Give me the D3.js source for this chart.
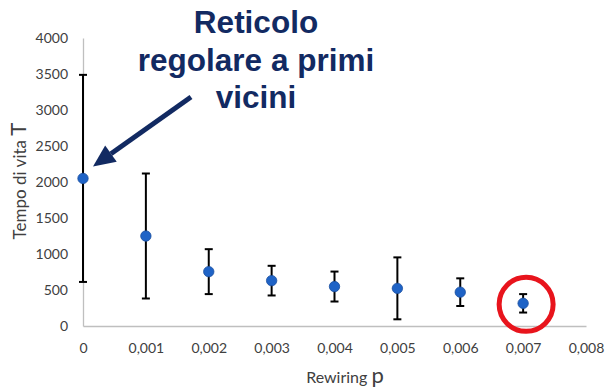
<!DOCTYPE html>
<html>
<head>
<meta charset="utf-8">
<script src="https://cdnjs.cloudflare.com/ajax/libs/d3/7.8.5/d3.min.js"></script>
<style>
  body { margin: 0; background: #fff; }
  svg { display: block; }
</style>
</head>
<body>
<div id="chart"></div>
<script>
// values
const pValues = [0, 0.001, 0.002, 0.003, 0.004, 0.005, 0.006, 0.007]
const meanT = [2050, 1250, 755, 630, 548, 523, 470, 315]
const errT = [1438, 868, 312, 206, 208, 430, 192, 128]
const xTicks = [0, 0.001, 0.002, 0.003, 0.004, 0.005, 0.006, 0.007, 0.008]
const yTicks = [0, 500, 1000, 1500, 2000, 2500, 3000, 3500, 4000]
const noteLines = ['Reticolo', 'regolare a primi', 'vicini']

const width = 607, height = 389
const margin = { top: 38, right: 21, bottom: 63, left: 83 }

const svg = d3.select('#chart').append('svg')
  .attr('width', width)
  .attr('height', height)

const x = d3.scaleLinear().domain([0, 0.008]).range([margin.left, width - margin.right])
const y = d3.scaleLinear().domain([0, 4000]).range([height - margin.bottom, margin.top])

const it = d3.formatLocale({ decimal: ',', thousands: '.', grouping: [3], currency: ['', '€'] })
const fmtP = d => d === 0 ? '0' : it.format('.3f')(d)

const tickFont = 'Lato, "Open Sans", sans-serif'
const grey = '#404040'

// axes
const xAxis = svg.append('g')
  .attr('transform', `translate(0,${y(0)})`)
  .call(d3.axisBottom(x).tickValues(xTicks).tickFormat(fmtP).tickSize(0).tickPadding(17))
xAxis.select('.domain').attr('stroke', '#bfbfbf').attr('stroke-width', 1.3)

const yAxis = svg.append('g')
  .attr('transform', `translate(${x(0)},0)`)
  .call(d3.axisLeft(y).tickValues(yTicks).tickFormat(d3.format('d')).tickSize(0).tickPadding(15))
yAxis.select('.domain').attr('stroke', '#bfbfbf').attr('stroke-width', 1.3)

svg.selectAll('.tick text')
  .attr('fill', grey)
  .style('font-family', tickFont)
  .style('font-size', '14px')

// error bars
const bars = svg.append('g')
  .selectAll('g')
  .data(pValues)
  .join('g')
  .attr('stroke', '#000')
  .attr('stroke-width', 2)

bars.append('line')
  .attr('x1', d => x(d)).attr('x2', d => x(d))
  .attr('y1', (d, i) => y(meanT[i] + errT[i]))
  .attr('y2', (d, i) => y(meanT[i] - errT[i]))

bars.append('line')
  .attr('x1', d => x(d) - 4).attr('x2', d => x(d) + 4)
  .attr('y1', (d, i) => y(meanT[i] + errT[i]))
  .attr('y2', (d, i) => y(meanT[i] + errT[i]))

bars.append('line')
  .attr('x1', d => x(d) - 4).attr('x2', d => x(d) + 4)
  .attr('y1', (d, i) => y(meanT[i] - errT[i]))
  .attr('y2', (d, i) => y(meanT[i] - errT[i]))

// points
svg.append('g')
  .selectAll('circle')
  .data(pValues)
  .join('circle')
  .attr('cx', d => x(d))
  .attr('cy', (d, i) => y(meanT[i]))
  .attr('r', 5.2)
  .attr('fill', '#1f63c6')
  .attr('stroke', '#1a4fa0')
  .attr('stroke-width', 0.8)

// axis titles
const yTitle = svg.append('text')
  .attr('transform', 'translate(26,181) rotate(-90)')
  .attr('text-anchor', 'middle')
  .attr('fill', grey)
  .style('font-family', tickFont)
yTitle.append('tspan').style('font-size', '17px').text('Tempo di vita ')
yTitle.append('tspan').style('font-size', '22px').text('T')

const xTitle = svg.append('text')
  .attr('x', 345)
  .attr('y', 383)
  .attr('text-anchor', 'middle')
  .attr('fill', grey)
  .style('font-family', tickFont)
xTitle.append('tspan').style('font-size', '16px').text('Rewiring ')
xTitle.append('tspan').style('font-size', '22px').text('p')

// annotation
const navy = '#122a62'
svg.append('text')
  .attr('text-anchor', 'middle')
  .attr('fill', navy)
  .style('font-family', '"Liberation Sans", Arial, sans-serif')
  .style('font-weight', 'bold')
  .style('font-size', '31.5px')
  .selectAll('tspan')
  .data(noteLines)
  .join('tspan')
  .attr('x', 256)
  .attr('y', (d, i) => 33 + i * 37.5)
  .text(d => d)

const tip = [x(0) + 10, y(meanT[0]) - 12]
const tail = [191, 97]
const ang = Math.atan2(tip[1] - tail[1], tip[0] - tail[0])
const headLen = 22, headHalf = 10
const base = [tip[0] - headLen * Math.cos(ang), tip[1] - headLen * Math.sin(ang)]

svg.append('line')
  .attr('x1', tail[0]).attr('y1', tail[1])
  .attr('x2', base[0]).attr('y2', base[1])
  .attr('stroke', navy)
  .attr('stroke-width', 5)

svg.append('path')
  .attr('d', d3.line()([
    tip,
    [base[0] + headHalf * Math.sin(ang), base[1] - headHalf * Math.cos(ang)],
    [base[0] - headHalf * Math.sin(ang), base[1] + headHalf * Math.cos(ang)]
  ]) + 'Z')
  .attr('fill', navy)

// red ring around the last point
svg.append('circle')
  .attr('cx', x(0.007) + 3)
  .attr('cy', y(meanT[7]) + 1)
  .attr('r', 27)
  .attr('fill', 'none')
  .attr('stroke', '#e8141c')
  .attr('stroke-width', 5)
</script>
</body>
</html>
